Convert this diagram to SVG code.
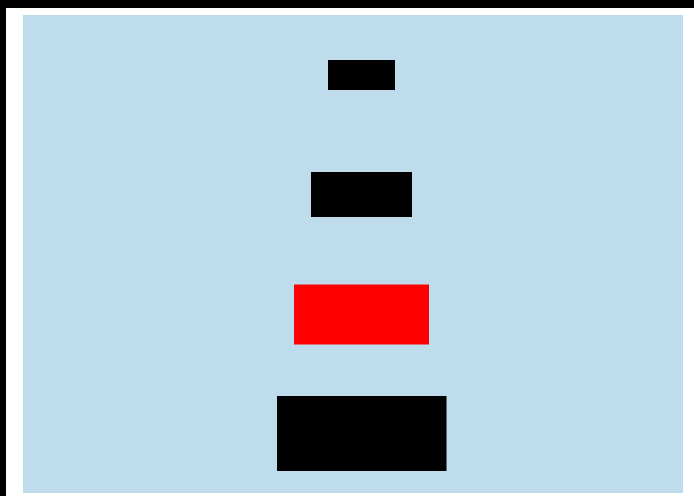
<svg xmlns="http://www.w3.org/2000/svg" width="694" height="496" viewBox="0 0 694 496">
<style>
.bar{fill:#000000}
.hl{fill:#ff0000}
</style>
<rect x="0" y="0" width="694" height="496" fill="#ffffff"/>
<rect x="0" y="0" width="6" height="496" fill="#000000"/>
<rect x="0" y="0" width="694" height="8" fill="#000000"/>
<rect x="23" y="15" width="660" height="478" fill="#bfdcec"/>
<g id="node1"><rect class="bar" x="328" y="60" width="67" height="30"/></g>
<g id="node2"><rect class="bar" x="311" y="172" width="101" height="45"/></g>
<g id="node3"><rect class="hl" x="294" y="284.5" width="135" height="60"/></g>
<g id="node4"><rect class="bar" x="277" y="396" width="169.5" height="75"/></g>
<g id="connectors"></g>
</svg>
